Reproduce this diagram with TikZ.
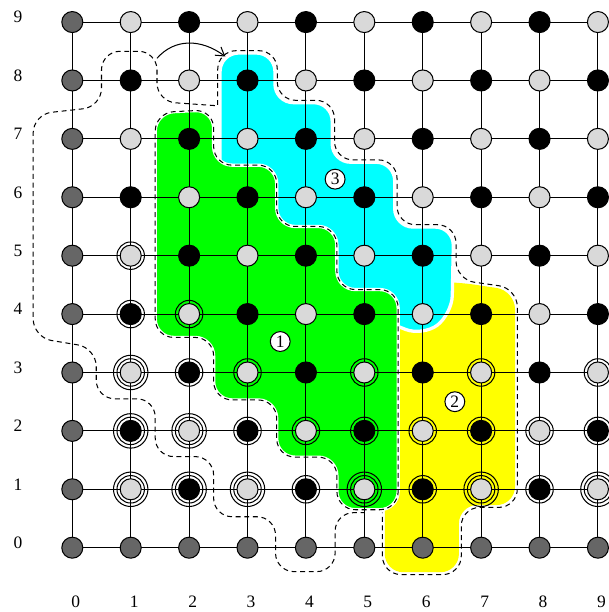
\documentclass[tikz,border=0pt]{standalone}
\usepackage{fontspec}
\setmainfont{Liberation Serif}
\usetikzlibrary{arrows.meta,calc}
\pgfdeclarelayer{back}
\pgfsetlayers{back,main}
\definecolor{zgreen}{RGB}{0,255,0}
\definecolor{zcyan}{RGB}{0,255,255}
\definecolor{zyellow}{RGB}{255,255,0}
\definecolor{lite}{RGB}{217,217,217}
\definecolor{edge}{RGB}{102,102,102}

\begin{document}
\begin{tikzpicture}[>={Straight Barb[length=4pt,width=5pt]},font=\fontsize{8.5}{10}\selectfont,
 site/.style={circle,draw,line width=0.5pt,inner sep=0pt,minimum size=0.36cm},
 ring/.style={line width=0.5pt},
 gridln/.style={line width=0.5pt},
 border/.style={dash pattern=on 2.4pt off 1.8pt,line width=0.5pt,rounded corners=9pt},
 blob/.style={draw=white,line width=1.6pt,rounded corners=9pt},
 tag/.style={circle,draw,fill=white,line width=0.5pt,inner sep=0pt,minimum size=0.34cm}]
\useasboundingbox (-1.238,-1.101) rectangle (9.173,9.378);
% lattice sites
\foreach \c in {0,...,9}{
 \foreach \r in {0,...,9}{
  \pgfmathtruncatemacro\t{(\c*\r==0) ? 2 : mod(\c+\r,2)}
  \ifcase\t \def\fc{lite}\or \def\fc{black}\else \def\fc{edge}\fi
  \node[site,fill=\fc] (s\c\r) at (\c,\r) {};
 }
}
% rings
\foreach \c/\r in {1/5,1/4,2/4,2/3,3/3,5/3,7/3,9/3,3/2,4/2,5/2,6/2,7/2,8/2,9/2,4/1,6/1,8/1}
 \draw[ring] (s\c\r) circle[radius=0.235];
\foreach \c/\r in {1/3,1/2,2/2,1/1,2/1,3/1,5/1,7/1,9/1}{
 \draw[ring] (s\c\r) circle[radius=0.235];
 \draw[ring] (s\c\r) circle[radius=0.295];
}
% axis labels
\foreach \r in {0,...,9} \node (rl\r) at (-0.93,\r+0.085) {\r};
\foreach \c in {0,...,9} \node (cl\c) at (\c+0.06,-0.925) {\c};
% region tags
\node[tag] (t1) at (3.56,3.53) {1};
\node[tag] (t2) at (6.55,2.5) {2};
\node[tag] (t3) at (4.5,6.31) {3};
% move arrow
\coordinate (a0) at (1.45,8.38);
\coordinate (a1) at (2.62,8.41);
\draw[->,line width=0.5pt] (a0) .. controls (1.75,8.72) and (2.2,8.72) .. (a1);

\begin{pgfonlayer}{back}
% regions
\fill[zyellow,rounded corners=9pt] (7.58,2.5) -- (7.58,0.73) -- (6.62,0.73) -- (6.62,-0.42) -- (5.35,-0.42)
 -- (5.35,4.55) -- (6.58,4.55) -- (7.58,4.4) -- cycle;
\path[blob,fill=zcyan] (3,8.47) -- (3.47,8.47) -- (3.47,7.62) -- (4.45,7.62) -- (4.45,6.6) -- (5.52,6.6)
 -- (5.52,5.49) -- (6.53,5.49) -- (6.5,4.0) -- (6.0,3.62) -- (5.3,3.9) -- (5.3,4.3) -- (4.3,4.3)
 -- (4.3,5.3) -- (3.3,5.3) -- (3.3,6.3) -- (2.53,6.3) -- (2.53,8.47) -- cycle;
\path[blob,fill=zgreen] (1.42,5.5) -- (1.42,7.45) -- (2.42,7.5) -- (2.42,6.55) -- (3.5,6.55) -- (3.5,5.5)
 -- (4.53,5.5) -- (4.53,4.42) -- (5.58,4.42) -- (5.58,0.65) -- (4.53,0.65) -- (4.53,1.55) -- (3.5,1.55)
 -- (3.5,2.53) -- (2.42,2.53) -- (2.42,3.6) -- (1.42,3.6) -- cycle;
% outlines
\draw[border] (1.42,5.5) -- (1.42,7.45) -- (2.42,7.5) -- (2.42,6.55) -- (3.5,6.55) -- (3.5,5.5)
 -- (4.53,5.5) -- (4.53,4.42) -- (5.58,4.42) -- (5.58,0.65) -- (4.53,0.65) -- (4.53,1.55) -- (3.5,1.55)
 -- (3.5,2.53) -- (2.42,2.53) -- (2.42,3.6) -- (1.42,3.6) -- cycle;
\draw[border] (2.49,7.58) -- (2.49,8.51) -- (3.51,8.51) -- (3.51,7.66) -- (4.49,7.66) -- (4.49,6.64)
 -- (5.56,6.64) -- (5.56,5.53) -- (6.57,5.53) -- (6.57,4.59) -- (7.62,4.44) -- (7.62,0.69) -- (6.66,0.69)
 -- (6.66,-0.46) -- (5.31,-0.46) -- (5.31,0.6);
\draw[border] (2.44,7.57) -- (1.45,7.64) -- (1.45,8.5) -- (0.5,8.5) -- (0.5,7.55) -- (-0.67,7.42)
 -- (-0.67,3.6) -- (0.41,3.42) -- (0.41,2.55) -- (1.42,2.55) -- (1.42,1.56) -- (2.42,1.56) -- (2.42,0.53)
 -- (3.48,0.53) -- (3.48,-0.41) -- (4.5,-0.41) -- (4.5,0.6) -- (5.0,0.6);
% lattice lines
\foreach \k in {0,...,9}{
 \draw[gridln] (s0\k) -- (s9\k);
 \draw[gridln] (s\k0) -- (s\k9);
}
\end{pgfonlayer}
\end{tikzpicture}
\end{document}
